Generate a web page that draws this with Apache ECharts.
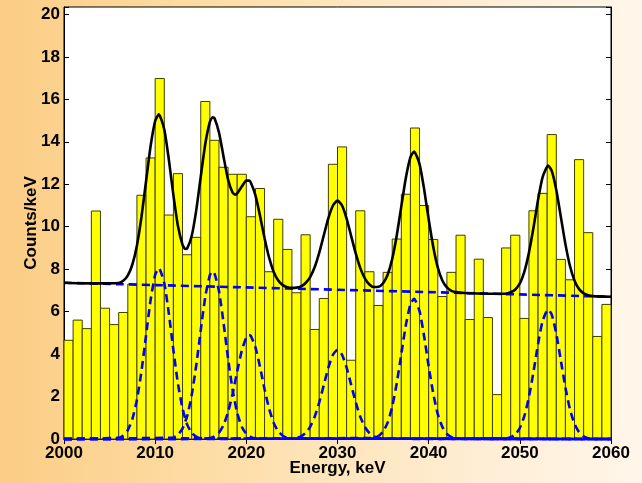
<!DOCTYPE html>
<html>
<head>
<meta charset="utf-8">
<script src="https://cdn.jsdelivr.net/npm/echarts@6/dist/echarts.min.js"></script>
<style>
  html, body { margin: 0; padding: 0; }
  body { background: linear-gradient(to right, #fbcd85 0%, #fddea8 35%, #feecd0 70%, #fff6ea 100%); }
  #chart { width: 642px; height: 483px; }
</style>
</head>
<body>
<div id="chart"></div>
<script>
"use strict";

// 1 keV bins, left edges
var binStart = [
  2000, 2001, 2002, 2003, 2004, 2005, 2006, 2007, 2008, 2009,
  2010, 2011, 2012, 2013, 2014, 2015, 2016, 2017, 2018, 2019,
  2020, 2021, 2022, 2023, 2024, 2025, 2026, 2027, 2028, 2029,
  2030, 2031, 2032, 2033, 2034, 2035, 2036, 2037, 2038, 2039,
  2040, 2041, 2042, 2043, 2044, 2045, 2046, 2047, 2048, 2049,
  2050, 2051, 2052, 2053, 2054, 2055, 2056, 2057, 2058, 2059
];
var counts = [
  4.65, 5.6, 5.2, 10.74, 6.16, 5.39, 5.96, 7.3, 11.48, 13.24,
  16.98, 10.55, 12.5, 8.68, 9.5, 15.9, 14.07, 12.8, 12.47, 12.47,
  10.47, 11.8, 7.88, 10.35, 8.93, 6.89, 9.62, 5.16, 6.62, 12.94,
  13.76, 3.71, 10.75, 7.88, 6.29, 7.85, 9.42, 11.53, 14.65, 11.0,
  9.4, 6.71, 7.85, 9.6, 5.63, 8.47, 5.72, 2.09, 9.0, 9.6,
  5.68, 10.75, 11.57, 14.34, 8.46, 7.5, 13.16, 9.72, 4.83, 6.34
];
var binWidth = 1;

// total fit (black)
var fitCurve = [
  [2000, 7.36], [2003, 7.33], [2006, 7.35], [2006.5, 7.45], [2007, 7.71], [2007.5, 8.22],
  [2008, 9.12], [2008.5, 10.47], [2009, 12.14], [2009.5, 13.8], [2010, 14.98], [2010.4, 15.3],
  [2011, 14.58], [2011.5, 13.16], [2012, 11.49], [2012.5, 10.03], [2013, 9.15], [2013.3, 8.95],
  [2013.5, 8.97], [2014, 9.55], [2014.5, 10.76], [2015, 12.36], [2015.5, 13.91], [2016, 14.94],
  [2016.3, 15.16], [2016.5, 15.12], [2017, 14.44], [2017.5, 13.3], [2018, 12.21], [2018.5, 11.6],
  [2018.8, 11.51], [2019, 11.57], [2019.5, 11.89], [2020, 12.17], [2020.3, 12.17], [2020.5, 12.07],
  [2021, 11.48], [2021.5, 10.52], [2022, 9.46], [2022.5, 8.54], [2023, 7.87], [2023.5, 7.47],
  [2024, 7.25], [2024.5, 7.15], [2025, 7.12], [2025.5, 7.13], [2026, 7.19], [2026.5, 7.35],
  [2027, 7.63], [2027.5, 8.1], [2028, 8.78], [2028.5, 9.6], [2029, 10.4], [2029.5, 11.0],
  [2030, 11.23], [2030.5, 11.0], [2031, 10.38], [2031.5, 9.56], [2032, 8.74], [2032.5, 8.05],
  [2033, 7.57], [2033.5, 7.28], [2034, 7.16], [2034.5, 7.17], [2035, 7.34], [2035.5, 7.74],
  [2036, 8.48], [2036.5, 9.59], [2037, 10.96], [2037.5, 12.31], [2038, 13.28], [2038.4, 13.54],
  [2039, 12.95], [2039.5, 11.77], [2040, 10.35], [2040.5, 9.06], [2041, 8.08], [2041.5, 7.47],
  [2042, 7.14], [2042.5, 6.98], [2043, 6.92], [2044, 6.88], [2046, 6.85], [2048, 6.84],
  [2048.5, 6.85], [2049, 6.91], [2049.5, 7.04], [2050, 7.33], [2050.5, 7.89], [2051, 8.78],
  [2051.5, 9.96], [2052, 11.27], [2052.5, 12.34], [2053.1, 12.88], [2053.5, 12.63], [2054, 11.73],
  [2054.5, 10.46], [2055, 9.18], [2055.5, 8.15], [2056, 7.46], [2056.5, 7.06], [2057, 6.86],
  [2057.5, 6.77], [2058, 6.73], [2060, 6.7]
];

// fit components (blue dashed)
var background = [[2000, 7.36], [2060, 6.7]];
var peak2010 = [
  [2000, 0], [2006, 0.06], [2006.5, 0.17], [2007, 0.42], [2007.5, 0.94], [2008, 1.85],
  [2008.5, 3.2], [2009, 4.88], [2009.5, 6.55], [2010, 7.73], [2010.4, 8.05], [2011, 7.34],
  [2011.5, 5.91], [2012, 4.19], [2012.5, 2.61], [2013, 1.44], [2013.5, 0.69], [2014, 0.3],
  [2014.5, 0.11], [2015, 0.03], [2060, 0]
];
var peak2016 = [
  [2000, 0], [2012, 0.07], [2012.5, 0.2], [2013, 0.49], [2013.5, 1.07], [2014, 2.05],
  [2014.5, 3.45], [2015, 5.13], [2015.5, 6.71], [2016, 7.72], [2016.3, 7.9], [2016.5, 7.82],
  [2017, 6.97], [2017.5, 5.47], [2018, 3.78], [2018.5, 2.3], [2019, 1.23], [2019.5, 0.58],
  [2020, 0.24], [2020.5, 0.09], [2021, 0.03], [2060, 0]
];
var peak2020 = [
  [2000, 0], [2016, 0.04], [2016.5, 0.12], [2017, 0.3], [2017.5, 0.66], [2018, 1.27],
  [2018.5, 2.14], [2019, 3.19], [2019.5, 4.16], [2020, 4.79], [2020.3, 4.9], [2020.5, 4.85],
  [2021, 4.32], [2021.5, 3.4], [2022, 2.34], [2022.5, 1.43], [2023, 0.76], [2023.5, 0.36],
  [2024, 0.15], [2024.5, 0.05], [2025, 0.02], [2060, 0]
];
var peak2030 = [
  [2000, 0], [2025, 0.02], [2025.5, 0.05], [2026, 0.12], [2026.5, 0.28], [2027, 0.57],
  [2027.5, 1.05], [2028, 1.73], [2028.5, 2.55], [2029, 3.36], [2029.5, 3.97], [2030, 4.2],
  [2030.5, 3.97], [2031, 3.36], [2031.5, 2.55], [2032, 1.73], [2032.5, 1.05], [2033, 0.57],
  [2033.5, 0.28], [2034, 0.12], [2034.5, 0.05], [2035, 0.02], [2060, 0]
];
var peak2038 = [
  [2000, 0], [2034, 0.05], [2034.5, 0.14], [2035, 0.35], [2035.5, 0.77], [2036, 1.52],
  [2036.5, 2.63], [2037, 4.0], [2037.5, 5.37], [2038, 6.34], [2038.4, 6.6], [2039, 6.02],
  [2039.5, 4.84], [2040, 3.43], [2040.5, 2.15], [2041, 1.17], [2041.5, 0.57], [2042, 0.24],
  [2042.5, 0.09], [2043, 0.03], [2060, 0]
];
var peak2053 = [
  [2000, 0], [2048.5, 0.03], [2049, 0.08], [2049.5, 0.22], [2050, 0.52], [2050.5, 1.09],
  [2051, 1.98], [2051.5, 3.17], [2052, 4.48], [2052.5, 5.56], [2053.1, 6.1], [2053.5, 5.86],
  [2054, 4.96], [2054.5, 3.7], [2055, 2.43], [2055.5, 1.4], [2056, 0.71], [2056.5, 0.32],
  [2057, 0.13], [2057.5, 0.04], [2058, 0.01], [2060, 0]
];

var xTicks = { min: 2000, max: 2060, interval: 10 };
var yTicks = { min: 0, max: 20.35, interval: 2 };

function dashed(data) {
  return {
    type: "line",
    data: data,
    showSymbol: false,
    smooth: 0.2,
    clip: false,
    z: 4,
    lineStyle: { color: "#0000ff", width: 2.6, type: [8, 5] },
    silent: true,
  };
}

function draw() {
  var chart = echarts.init(document.getElementById("chart"), null, { renderer: "canvas" });
  var font = { fontFamily: "Liberation Sans", fontWeight: "bold", color: "#000" };

  var option = {
    backgroundColor: "transparent",
    animation: false,
    grid: {
      left: 64,
      right: 31,
      top: 7,
      bottom: 44,
      show: true,
      backgroundColor: "#ffffff",
      borderColor: "#000",
      borderWidth: 1,
    },
    xAxis: [
      {
        type: "value",
        min: xTicks.min,
        max: xTicks.max,
        interval: xTicks.interval,
        name: "Energy, keV",
        nameLocation: "middle",
        nameGap: 21,
        nameMoveOverlap: false,
        nameTextStyle: Object.assign({ fontSize: 17, verticalAlign: "top" }, font),
        axisLine: { lineStyle: { color: "#000", width: 1 } },
        axisTick: { inside: true, length: 5, lineStyle: { color: "#000" } },
        axisLabel: Object.assign(
          {
            fontSize: 17,
            margin: 6,
            formatter: function (v) {
              return String(v);
            },
          },
          font
        ),
        splitLine: { show: false },
      },
      {
        type: "value",
        position: "top",
        min: xTicks.min,
        max: xTicks.max,
        interval: xTicks.interval,
        axisLine: { lineStyle: { color: "#000" } },
        axisTick: { inside: true, length: 5, lineStyle: { color: "#000" } },
        axisLabel: { show: false },
        splitLine: { show: false },
      },
    ],
    yAxis: [
      {
        type: "value",
        min: yTicks.min,
        max: yTicks.max,
        interval: yTicks.interval,
        name: "Counts/keV",
        nameLocation: "middle",
        nameGap: 24,
        nameMoveOverlap: false,
        nameTextStyle: Object.assign({ fontSize: 17 }, font),
        axisLine: { show: true, lineStyle: { color: "#000" } },
        axisTick: { show: true, inside: true, length: 5, lineStyle: { color: "#000" } },
        axisLabel: Object.assign(
          {
            fontSize: 17,
            margin: 4,
            formatter: function (v) {
              return v % 2 === 0 ? String(v) : "";
            },
          },
          font
        ),
        splitLine: { show: false },
      },
      {
        type: "value",
        position: "right",
        min: yTicks.min,
        max: yTicks.max,
        interval: yTicks.interval,
        axisLine: { show: true, lineStyle: { color: "#000" } },
        axisTick: { show: true, inside: true, length: 5, lineStyle: { color: "#000" } },
        axisLabel: { show: false },
        splitLine: { show: false },
      },
    ],
    series: [
      {
        type: "custom",
        z: 2,
        silent: true,
        data: binStart.map(function (x, i) {
          return [x, counts[i]];
        }),
        encode: { x: 0, y: 1 },
        renderItem: function (params, api) {
          var x0 = api.value(0);
          var p0 = api.coord([x0, api.value(1)]);
          var p1 = api.coord([x0 + binWidth, 0]);
          return {
            type: "rect",
            shape: { x: p0[0], y: p0[1], width: p1[0] - p0[0], height: p1[1] - p0[1] },
            style: { fill: "#ffff00", stroke: "#3f3f00", lineWidth: 1 },
          };
        },
      },
      dashed(background),
      dashed(peak2010),
      dashed(peak2016),
      dashed(peak2020),
      dashed(peak2030),
      dashed(peak2038),
      dashed(peak2053),
      {
        type: "line",
        data: fitCurve,
        showSymbol: false,
        smooth: 0.2,
        z: 5,
        silent: true,
        lineStyle: { color: "#000", width: 2.6, type: "solid" },
      },
    ],
  };

  chart.setOption(option);
}

draw();
</script>
</body>
</html>
